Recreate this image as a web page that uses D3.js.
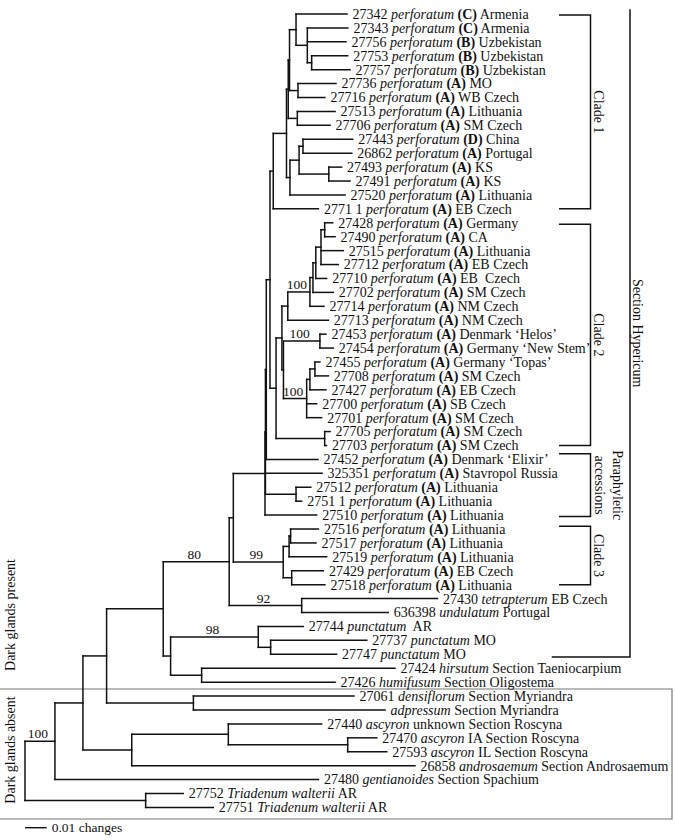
<!DOCTYPE html>
<html><head><meta charset="utf-8">
<script src="https://cdn.jsdelivr.net/npm/d3@7/dist/d3.min.js"></script>
<style>
body{margin:0;background:#fff}
svg{display:block}
text{font-family:"Liberation Serif","Times New Roman",serif;fill:#111;white-space:pre}
</style>
</head><body>
<svg id="c" width="676" height="840"></svg>
<script>
// ---------- DATA ----------
const tipIds = ["27342","27343","27756","27753","27757","27736","27716","27513","27706","27443","26862","27493","27491","27520","2771 1","27428","27490","27515","27712","27710","27702","27714","27713","27453","27454","27455","27708","27427","27700","27701","27705","27703","27452","325351","27512","2751 1","27510","27516","27517","27519","27429","27518","27430","636398","27744","27737","27747","27424","27426","27061","","27440","27470","27593","26858","27480","27752","27751"];
const tipSpecies = ["perforatum","perforatum","perforatum","perforatum","perforatum","perforatum","perforatum","perforatum","perforatum","perforatum","perforatum","perforatum","perforatum","perforatum","perforatum","perforatum","perforatum","perforatum","perforatum","perforatum","perforatum","perforatum","perforatum","perforatum","perforatum","perforatum","perforatum","perforatum","perforatum","perforatum","perforatum","perforatum","perforatum","perforatum","perforatum","perforatum","perforatum","perforatum","perforatum","perforatum","perforatum","perforatum","tetrapterum","undulatum","punctatum","punctatum","punctatum","hirsutum","humifusum","densiflorum","adpressum","ascyron","ascyron","ascyron","androsaemum","gentianoides","Triadenum walterii","Triadenum walterii"];
const tipGroup = ["C","C","B","B","B","A","A","A","A","D","A","A","A","A","A","A","A","A","A","A","A","A","A","A","A","A","A","A","A","A","A","A","A","A","A","A","A","A","A","A","A","A","","","","","","","","","","","","","","","",""];
const tipPlace = ["Armenia","Armenia","Uzbekistan","Uzbekistan","Uzbekistan","MO","WB Czech","Lithuania","SM Czech","China","Portugal","KS","KS","Lithuania","EB Czech","Germany","CA","Lithuania","EB Czech","EB  Czech","SM Czech","NM Czech","NM Czech","Denmark \u2018Helos\u2019","Germany \u2018New Stem\u2019","Germany \u2018Topas\u2019","SM Czech","EB Czech","SB Czech","SM Czech","SM Czech","SM Czech","Denmark \u2018Elixir\u2019","Stavropol Russia","Lithuania","Lithuania","Lithuania","Lithuania","Lithuania","Lithuania","EB Czech","Lithuania","EB Czech","Portugal"," AR","MO","MO","Section Taeniocarpium","Section Oligostema","Section Myriandra","Section Myriandra","unknown Section Roscyna","IA Section Roscyna","IL Section Roscyna","Section Androsaemum","Section Spachium","AR","AR"];
// parent node of each tip
const tipParents = ["A1","A2","A2","A3","A3","B1","B1","B2","B2","D1","D1","D2","D2","Dp","Clade1","Na","Na","P1","P1","N2","N3","N4","N5","HN","HN","Tsub2","Tsub2","Tsub","T","T","N9","N9","H","Cin","L","L","Cout","C3b","C3b","C3a","C3c","C3c","TU","TU","Punct","Punct2","Punct2","HH","HH","Myr","Myr","Ros","Ros2","Ros2","G4","G1","Tri","Tri"];
// distance from root (changes) of each tip
const tipDist = [0.1484,0.1488,0.1479,0.1487,0.1498,0.1433,0.1382,0.1429,0.1406,0.1510,0.1506,0.1459,0.1498,0.1475,0.1352,0.1418,0.1429,0.1467,0.1444,0.1390,0.1421,0.1378,0.1398,0.1387,0.1421,0.1359,0.1398,0.1387,0.1344,0.1367,0.1406,0.1389,0.1350,0.1369,0.1317,0.1275,0.1344,0.1352,0.1341,0.1390,0.1375,0.1382,0.1901,0.1674,0.1282,0.1575,0.1436,0.1705,0.1429,0.1516,0.1659,0.1367,0.1621,0.1667,0.1797,0.1352,0.0729,0.0868];
// internal nodes
const nodeNames   = ["R","Tri","G1","G2","G4","Ros","Ros2","G3","Myr","P","Q","Punct","Punct2","HH","A","TU","B","C3","C3a","C3b","C3c","Cout","Cin","L","H","N8","Clade1","X","Xp","Y","A1","A2","A3","B1","B2","Dp","D","D1","D2","N7","N6b","N5","N4","N3","N2","P1","Na","N6a","HN","T","Tsub","Tsub2","N9"];
const nodeParents = ["","R","R","G1","G2","G4","Ros","G2","G3","G3","P","Q","Punct","Q","P","A","A","B","C3","C3a","C3","B","Cout","Cin","Cin","H","N8","Clade1","X","Xp","Y","A1","A2","Y","Xp","X","Dp","D","D","N8","N7","N6b","N5","N4","N3","N2","P1","N6b","N6a","N6a","T","Tsub","N7"];
const nodeDist    = [0,0.0556,0.0138,0.0267,0.0492,0.0937,0.1487,0.0376,0.0776,0.0637,0.0671,0.1075,0.1132,0.0814,0.0941,0.1275,0.0960,0.1190,0.1217,0.1224,0.1229,0.1106,0.1108,0.1249,0.1112,0.1129,0.1144,0.1205,0.1213,0.1219,0.1249,0.1301,0.1321,0.1258,0.1255,0.1221,0.1263,0.1281,0.1400,0.1157,0.1184,0.1211,0.1313,0.1327,0.1340,0.1364,0.1381,0.1191,0.1359,0.1298,0.1313,0.1336,0.1381];
// bootstrap support
const supportNodes  = ["G1","A","TU","Punct","C3","N4","HN","T"];
const supportValues = [100,80,92,98,99,100,100,100];
// clade brackets (tip rows)
const bracketNames = [["Clade 1"],["Clade 2"],["Paraphyletic","accessions"],["Clade 3"]];
const bracketFrom  = [0.07,15.1,31.6,36.8];
const bracketTo    = [14,31,36.1,41];
const sectionName = "Section Hypericum";
const sectionFrom = -0.34, sectionTo = 46.2;
const scaleBarValue = 0.01, scaleBarLabel = "0.01 changes";

// ---------- DRAW ----------
const svg = d3.select("#c");
const x = d3.scaleLinear().domain([0,0.1]).range([25,242]);
const y = d3.scaleLinear().domain([0,57]).range([14,807.4]);
const ink = "#111";

const rows = nodeNames.map((n,i)=>({id:n,parent:nodeParents[i]||null,dist:nodeDist[i],tip:-1}))
  .concat(tipIds.map((t,i)=>({id:"tip"+i,parent:tipParents[i],dist:tipDist[i],tip:i})));
const root = d3.stratify().id(d=>d.id).parentId(d=>d.parent)(rows);
root.eachAfter(n=>{
  n.px = x(n.data.dist);
  if(n.data.tip>=0) n.py = y(n.data.tip);
  else { const ys=n.children.map(c=>c.py); n.py=(d3.min(ys)+d3.max(ys))/2; }
});

// box for dark glands absent
svg.append("path").attr("d","M0,689H672V819H0").attr("fill","none").attr("stroke","#777").attr("stroke-width",1.2);

const g = svg.append("g").attr("stroke",ink).attr("stroke-width",1.5).attr("stroke-linecap","square").attr("fill","none");
root.descendants().forEach(n=>{
  if(n.children){
    const ys=n.children.map(c=>c.py);
    g.append("line").attr("x1",n.px).attr("x2",n.px).attr("y1",d3.min(ys)).attr("y2",d3.max(ys));
  }
  if(n.parent){
    g.append("line").attr("x1",n.parent.px).attr("x2",n.px).attr("y1",n.py).attr("y2",n.py);
  }
});

// tip labels
root.leaves().forEach(n=>{
  const i=n.data.tip;
  const t=svg.append("text").attr("x",n.px+5.5).attr("y",n.py).attr("dy","0.35em").attr("font-size",14);
  if(tipIds[i]) t.append("tspan").text(tipIds[i]+" ");
  t.append("tspan").attr("font-style","italic").text(tipSpecies[i]);
  if(tipGroup[i]){
    t.append("tspan").text(" ");
    t.append("tspan").attr("font-weight","bold").text("("+tipGroup[i]+")");
  }
  t.append("tspan").text(" "+tipPlace[i]);
});

// support values
const byId = new Map(root.descendants().map(n=>[n.id,n]));
supportNodes.forEach((id,i)=>{
  const n=byId.get(id);
  svg.append("text").attr("x",(n.parent.px+n.px)/2 - 2).attr("y",n.py-3)
    .attr("text-anchor","middle").attr("font-size",13.5).text(supportValues[i]);
});

// brackets
const bx0=559, bx1=590.5;
bracketNames.forEach((lines,i)=>{
  const y0=y(bracketFrom[i]), y1=y(bracketTo[i]);
  svg.append("path").attr("d",`M${bx0},${y0}H${bx1}V${y1}H${bx0}`).attr("fill","none").attr("stroke",ink).attr("stroke-width",1.5);
  const cy=(y0+y1)/2;
  lines.forEach((s,j)=>{
    const cx = lines.length===1 ? 599 : (j===0 ? 617.5 : 600);
    svg.append("text").attr("transform",`translate(${cx},${cy}) rotate(90)`)
      .attr("text-anchor","middle").attr("dy","0.35em").attr("font-size",14).text(s);
  });
});
{
  const y0=y(sectionFrom), y1=y(sectionTo);
  svg.append("path").attr("d",`M630,${y0}V${y1}H551.7`).attr("fill","none").attr("stroke",ink).attr("stroke-width",1.5);
  svg.append("text").attr("transform",`translate(638,${(y0+y1)/2}) rotate(90)`)
    .attr("text-anchor","middle").attr("dy","0.35em").attr("font-size",14).text(sectionName);
}
// left labels
svg.append("text").attr("transform","translate(10,615) rotate(-90)").attr("text-anchor","middle").attr("dy","0.35em").attr("font-size",14).text("Dark glands present");
svg.append("text").attr("transform","translate(10,750) rotate(-90)").attr("text-anchor","middle").attr("dy","0.35em").attr("font-size",14).text("Dark glands absent");

// scale bar
svg.append("line").attr("x1",x(0)).attr("x2",x(scaleBarValue)).attr("y1",827.7).attr("y2",827.7).attr("stroke",ink).attr("stroke-width",1.4);
svg.append("text").attr("x",x(scaleBarValue)+5).attr("y",827.7).attr("dy","0.35em").attr("font-size",13.5).text(scaleBarLabel);
</script>
</body></html>
